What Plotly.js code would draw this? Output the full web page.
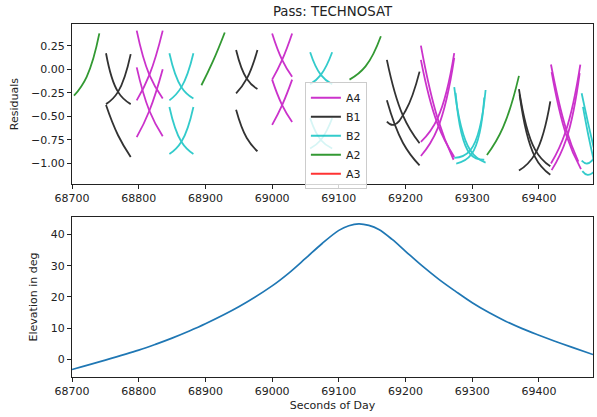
<!DOCTYPE html>
<html>
<head>
<meta charset="utf-8">
<script src="https://cdn.plot.ly/plotly-3.0.1.min.js"></script>
<style>html,body{margin:0;padding:0;background:#fff;}#chart{width:597px;height:417px;}</style>
</head>
<body>
<div id="chart"></div>
<script>
// Residual arcs per signal (null separates arcs)
const a4X = [68797,68816,68836,null, 68797,68816,68836,null, 68797,68816,68836,null, 68797,68816,68836,null,
             69000,69015,69030,null, 69000,69015,69030,null, 69000,69015,69030,null, 69000,69015,69030,null,
             69223,69248,69272,null, 69223,69248,69273,null, 69223,69248,69273,null, 69223,69248,69273,null,
             69418,69440,69459,null, 69419,69441,69463,null, 69418,69440,69462,null, 69419,69441,69461];
const a4Y = [0.41,-0.06,-0.31,null, -0.33,-0.06,0.41,null, 0.02,-0.44,-0.71,null, -0.72,-0.44,0.00,null,
             0.38,0.10,-0.08,null, -0.11,0.10,0.38,null, -0.11,-0.38,-0.56,null, -0.59,-0.38,-0.11,null,
             0.25,-0.52,-0.96,null, 0.10,-0.58,-0.93,null, -0.77,-0.52,0.17,null, -0.92,-0.63,0.12,null,
             0.05,-0.62,-0.98,null, -0.03,-0.70,-1.06,null, -1.00,-0.66,0.05,null, -1.07,-0.74,-0.04];

const b1X = [68751,68769,68788,null, 68751,68769,68788,null, 68751,68769,68788,null,
             68946,68962,68978,null, 68946,68962,68978,null, 68946,68962,68978,null,
             69172,69196,69221,null, 69172,69196,69221,null, 69172,69182,69200,69221,null,
             69370,69394,69417,null, 69371,69394,69417,null, 69370,69394,69417];
const b1Y = [0.17,-0.24,-0.37,null, -0.37,-0.24,0.16,null, -0.38,-0.70,-0.93,null,
             0.205,-0.10,-0.21,null, -0.255,-0.10,0.205,null, -0.43,-0.73,-0.87,null,
             0.10,-0.49,-0.785,null, -0.33,-0.78,-1.02,null, -0.555,-0.59,-0.44,-0.025,null,
             -0.21,-0.85,-1.03,null, -0.27,-0.93,-1.12,null, -1.075,-0.90,-0.34];

const b2X = [68846,68864,68882,null, 68846,68864,68882,null, 68846,68864,68882,null, 68846,68864,68882,null,
             69057,69073,69090,null, 69057,69073,69090,null, 69057,69073,69090,null, 69057,69073,69090,null,
             69273,69297,69320,null, 69275,69297,69318,null, 69273,69297,69320,null, 69276,69299,69318,null,
             69464,69473,69482,null, 69466,69474,69482,null, 69464,69472,69482,null, 69465,69473,69482];
const b2Y = [0.17,-0.19,-0.31,null, -0.33,-0.19,0.17,null, -0.40,-0.77,-0.90,null, -0.90,-0.77,-0.40,null,
             0.18,-0.06,-0.16,null, -0.16,-0.06,0.18,null, -0.52,-0.75,-0.84,null, -0.84,-0.75,-0.52,null,
             -0.19,-0.86,-0.99,null, -0.25,-0.90,-0.96,null, -0.94,-0.86,-0.22,null, -1.00,-0.90,-0.30,null,
             -0.255,-0.55,-0.83,null, -0.40,-0.70,-0.96,null, -0.97,-1.00,-0.95,null, -1.08,-1.12,-1.09];

const a2X = [68703,68722,68741,null, 68894,68911,68929,null, 69116,69140,69163,null, 69322,69346,69370];
const a2Y = [-0.28,-0.08,0.38,null, -0.17,0.08,0.39,null, -0.11,0.03,0.35,null, -0.91,-0.62,-0.07];

const a3X = [null];
const a3Y = [null];

// Elevation curve
const elevX = [68700,68750,68800,68825,68850,68875,68900,68950,69000,69025,69050,69075,69100,69115,69130,69145,69160,69180,69200,69225,69250,69275,69300,69325,69350,69375,69400,69425,69450,69481];
const elevY = [-3.3,-0.3,2.9,4.75,6.75,8.95,11.35,16.8,23.5,27.6,32.3,37.1,41.3,42.8,43.4,42.9,41.6,38.4,34.6,29.9,25.6,21.75,18.1,14.95,12.2,9.8,7.7,5.7,3.8,1.5];

const xTicks = [68700,68800,68900,69000,69100,69200,69300,69400];

const FONT = 'DejaVu Sans, sans-serif';
const lineW = 1.8;
function resTrace(name, x, y, color) {
  return {type:'scatter', mode:'lines', name:name, x:x, y:y, xaxis:'x', yaxis:'y',
          connectgaps:false, opacity:0.8,
          line:{color:color, width:lineW, shape:'spline', smoothing:1.3}};
}
const traces = [
  resTrace('A4', a4X, a4Y, '#bf00bf'),
  resTrace('B1', b1X, b1Y, '#000000'),
  resTrace('B2', b2X, b2Y, '#00bfbf'),
  resTrace('A2', a2X, a2Y, '#008000'),
  resTrace('A3', a3X, a3Y, '#ff0000'),
  {type:'scatter', mode:'lines', x:elevX, y:elevY, xaxis:'x2', yaxis:'y2', showlegend:false,
   line:{color:'#1f77b4', width:1.7, shape:'spline', smoothing:1}}
];

const axBase = {showgrid:false, zeroline:false, showline:true, mirror:true, linecolor:'#222', linewidth:1,
  ticks:'outside', ticklen:4, tickcolor:'#222', tickwidth:1, tickfont:{family:FONT, size:11, color:'#222'}};

const layout = {
  width:597, height:417,
  margin:{l:72, r:4, t:24, b:40},
  paper_bgcolor:'#fff', plot_bgcolor:'#fff',
  font:{family:FONT, size:11, color:'#222'},
  title:{text:'Pass: TECHNOSAT', font:{family:FONT, size:13.3, color:'#222'}, x:0.5, xref:'paper', xanchor:'center', y:0.972, yref:'container', yanchor:'middle'},
  xaxis:Object.assign({}, axBase, {anchor:'y', domain:[0,1], range:[68700,69481], tickvals:xTicks, tickformat:'d'}),
  yaxis:Object.assign({}, axBase, {anchor:'x', domain:[0.546,1], range:[-1.22,0.48], tick0:0, dtick:0.25, tickformat:'.2f',
    title:{text:'Residuals', font:{family:FONT, size:11, color:'#222'}, standoff:10}}),
  xaxis2:Object.assign({}, axBase, {anchor:'y2', domain:[0,1], range:[68700,69481], tickvals:xTicks, tickformat:'d',
    title:{text:'Seconds of Day', font:{family:FONT, size:11, color:'#222'}, standoff:4}}),
  yaxis2:Object.assign({}, axBase, {anchor:'x2', domain:[0,0.4533], range:[-5.7,45.6], tick0:0, dtick:10,
    title:{text:'Elevation in deg', font:{family:FONT, size:11, color:'#222'}, standoff:10}}),
  showlegend:true,
  legend:{x:0.447, y:0.835, xanchor:'left', yanchor:'top', bgcolor:'rgba(255,255,255,0.8)', bordercolor:'#ccc', borderwidth:1,
    font:{family:FONT, size:11, color:'#222'}, itemwidth:30, tracegroupgap:0}
};

Plotly.newPlot('chart', traces, layout, {displayModeBar:false, staticPlot:true});
</script>
</body>
</html>
